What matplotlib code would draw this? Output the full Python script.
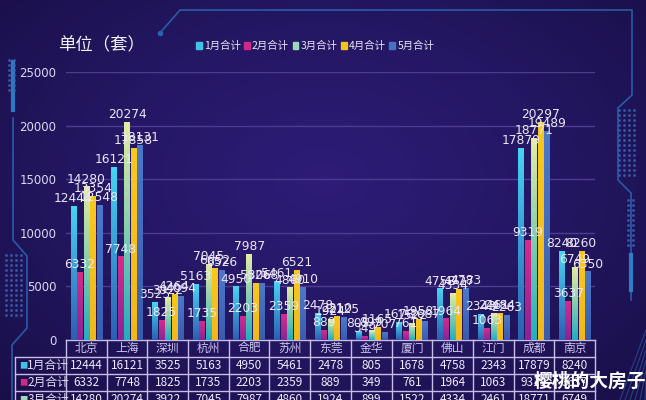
import matplotlib
matplotlib.use("Agg")
import matplotlib.pyplot as plt
import numpy as np
from matplotlib.colors import LinearSegmentedColormap
from matplotlib.lines import Line2D
from matplotlib.patches import Rectangle

plt.rcParams['font.family'] = ['DejaVu Sans', 'Noto Sans CJK SC']
CJK = ['Noto Sans CJK SC', 'DejaVu Sans']

cities = ['北京', '上海', '深圳', '杭州', '合肥', '苏州', '东莞', '金华', '厦门', '佛山', '江门', '成都', '南京']
months = ['1月合计', '2月合计', '3月合计', '4月合计', '5月合计']
jan = [12444, 16121, 3525, 5163, 4950, 5461, 2478, 805, 1678, 4758, 2343, 17879, 8240]
feb = [6332, 7748, 1825, 1735, 2203, 2359, 889, 349, 761, 1964, 1063, 9319, 3637]
mar = [14280, 20274, 3922, 7045, 7987, 4860, 1924, 899, 1522, 4334, 2461, 18771, 6749]
apr = [13354, 17858, 4264, 6652, 5306, 6521, 2210, 1165, 1958, 4727, 2484, 20297, 8260]
may = [12548, 18131, 4094, 6526, 5268, 4910, 2125, 707, 1687, 4783, 2263, 19489, 6350]
series = [jan, feb, mar, apr, may]

# colours top -> bottom for each month
grads = [('#46d4f2', '#2b5fb4'), ('#d82a8c', '#8a2496'), ('#e4eca0', '#23aebf'),
         ('#f9c81c', '#f2b81a'), ('#4c78cc', '#3a5cae')]
legend_cols = ['#3ec3e6', '#cc2a86', '#9ed8b8', '#f5c41a', '#4672c4']

W, H = 646, 400
fig = plt.figure(figsize=(6.46, 4.0), dpi=100)
fig.patch.set_facecolor('#21155c')

# background gradient
bg = fig.add_axes([0, 0, 1, 1], zorder=-10)
yy, xx = np.mgrid[0:1:200j, 0:1:320j]
r = np.sqrt((xx - 0.5) ** 2 * 1.2 + (yy - 0.55) ** 2)
bg_cmap = LinearSegmentedColormap.from_list('bg', ['#2e1c78', '#241763', '#190f48'])
bg.imshow(r, cmap=bg_cmap, aspect='auto', extent=[0, 1, 0, 1], origin='lower')
bg.set_axis_off()

deco = '#2a63b0'
def dline(pts, lw=1.2, color=deco, alpha=0.9):
    xs = [p[0] / W for p in pts]
    ys = [1 - p[1] / H for p in pts]
    fig.add_artist(Line2D(xs, ys, color=color, lw=lw, alpha=alpha))

dline([(160, 33), (180, 10), (632, 10), (632, 95), (618, 108), (618, 180), (631, 193), (631, 300)])
dline([(631, 255), (631, 290)], lw=3, color='#2f86d0')
dline([(13, 62), (13, 110)], lw=3, color='#2f86d0')
dline([(13, 118), (13, 240), (27, 256), (27, 328), (12, 345), (12, 400)])
for (x0, y0, x1, y1) in [(619, 110, 638, 178), (6, 255, 24, 320), (9, 60, 15, 95), (628, 200, 634, 250)]:
    gx, gy = np.meshgrid(np.arange(x0, x1, 5), np.arange(y0, y1, 5))
    fig.add_artist(Line2D(gx.ravel() / W, 1 - gy.ravel() / H, ls='none', marker='o',
                          ms=1.2, color='#3a5fb0', alpha=0.7))
for k in range(6):
    dline([(620 + k * 5, 400), (646, 330 + k * 10)], lw=0.8, alpha=0.6)
fig.add_artist(Line2D([160 / W], [1 - 33 / H], marker='o', ms=3, color=deco))

# main axes
ax = fig.add_axes([66 / W, 1 - 340 / H, (595 - 66) / W, (340 - 72) / H])
ax.set_facecolor('none')
x = np.arange(len(cities))
bw = 0.13
offs = (np.arange(5) - 2) * 0.16
for i, vals in enumerate(series):
    bars = ax.bar(x + offs[i], vals, width=bw, color=grads[i][0], zorder=3)
    cmap = LinearSegmentedColormap.from_list('g%d' % i, [grads[i][1], grads[i][0]])
    grad = np.linspace(0, 1, 64).reshape(-1, 1)
    for b in bars:
        ax.imshow(grad, cmap=cmap, aspect='auto', origin='lower', zorder=3.5,
                  extent=[b.get_x(), b.get_x() + b.get_width(), 0, b.get_height()])
    ax.bar_label(bars, labels=[str(v) for v in vals], padding=1, fontsize=8.8,
                 color='#ece8f8', zorder=5)

ax.set_xlim(-0.5, len(cities) - 0.5)
ax.set_ylim(0, 25000)
ax.set_yticks(range(0, 25001, 5000))
ax.set_yticklabels([str(v) for v in range(0, 25001, 5000)], fontsize=8.5, color='#dcd8f0')
ax.tick_params(axis='y', length=0, pad=7)
ax.set_xticks([])
ax.grid(axis='y', color='#4b3c92', lw=1, zorder=0)
for s in ax.spines.values():
    s.set_visible(False)

# table under the chart
rh = 17 / (340 - 72)
lab_left = -0.5 - 51 / ((595 - 66) / len(cities))
tcol = '#c8bde6'
trans = ax.get_xaxis_transform()
rows = [months[0], months[1], months[2]]
rvals = [jan, feb, mar]
n_rows = len(rows) + 1
for k in range(n_rows + 1):
    yk = -k * rh
    x0 = -0.5 if k == 0 else lab_left
    ax.plot([x0, len(cities) - 0.5], [yk, yk], color=tcol, lw=1, transform=trans, clip_on=False)
for j in range(len(cities) + 1):
    ax.plot([j - 0.5, j - 0.5], [0, -n_rows * rh], color=tcol, lw=1, transform=trans, clip_on=False)
ax.plot([lab_left, lab_left], [-rh, -n_rows * rh], color=tcol, lw=1, transform=trans, clip_on=False)
for j, c in enumerate(cities):
    ax.text(j, -0.5 * rh, c, ha='center', va='center', fontsize=8.5, color='#cfc4ee',
            family=CJK, transform=trans, clip_on=False)
for r_i, (name, vals) in enumerate(zip(rows, rvals)):
    yc = -(r_i + 1.5) * rh
    ax.text(lab_left + 0.1, yc, '■', ha='left', va='center', fontsize=6, color=legend_cols[r_i],
            family=CJK, transform=trans, clip_on=False)
    ax.text(lab_left + 0.3, yc, name, ha='left', va='center', fontsize=8.5, color='#e4def6',
            family=CJK, transform=trans, clip_on=False)
    for j, v in enumerate(vals):
        ax.text(j, yc, str(v), ha='center', va='center', fontsize=8.5, color='#f0ecfa',
                family=CJK, transform=trans, clip_on=False)

# title and legend
fig.text(58 / W, 1 - 45 / H, '单位（套）', fontsize=12.5, color='#f2f0fa', family=CJK,
         ha='left', va='center')
handles = [Rectangle((0, 0), 1, 1, color=c) for c in legend_cols]
leg = fig.legend(handles, months, loc='center', bbox_to_anchor=(315 / W, 1 - 46 / H), ncol=5,
                 frameon=False, handlelength=0.55, handleheight=0.55,
                 handletextpad=0.2, columnspacing=0.35, prop={'family': CJK, 'size': 7.5})
for t in leg.get_texts():
    t.set_color('#e8e4f6')

# watermark
fig.text(590 / W, 1 - 381 / H, '樱桃的大房子', fontsize=13.5, color='white', family=CJK,
         ha='center', va='center', fontweight='bold')

fig.savefig('out.png', dpi=100, facecolor=fig.get_facecolor())
